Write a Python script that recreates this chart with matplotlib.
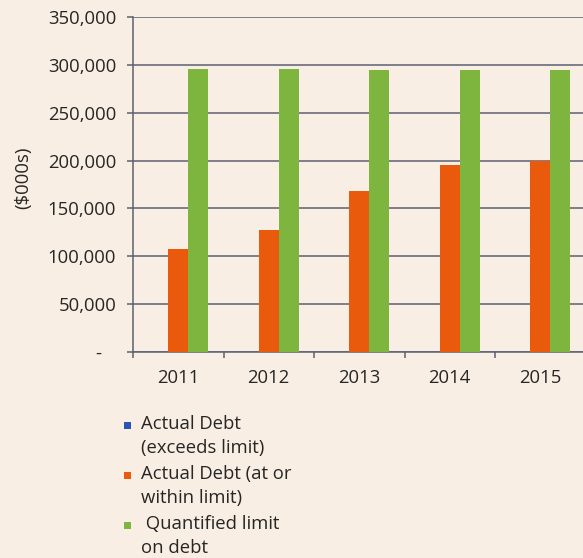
import matplotlib
matplotlib.use("Agg")
import matplotlib.pyplot as plt
import numpy as np
from matplotlib.patches import Rectangle

# ---- data ----
years = ["2011", "2012", "2013", "2014", "2015"]
debt_exceeds = [0, 0, 0, 0, 0]
debt_within = [108000, 127000, 168000, 195000, 200000]
debt_limit = [296000, 296000, 295000, 295000, 295000]
series_labels = ["Actual Debt\n(exceeds limit)",
                 "Actual Debt (at or\nwithin limit)",
                 " Quantified limit\non debt"]
series_colors = ["#2b55b5", "#ea5a0c", "#7db53f"]
y_ticks = [0, 50000, 100000, 150000, 200000, 250000, 300000, 350000]
y_label = "($000s)"

plt.rcParams['font.family'] = ['Open Sans', 'DejaVu Sans']
bg = "#f9eee3"
gridc = "#5d6172"
textc = "#262626"
fs = 13.3

W, H = 583, 558
fig = plt.figure(figsize=(W / 100, H / 100), dpi=100)
fig.patch.set_facecolor(bg)
ax = fig.add_axes([133 / W, 206 / H, 452.5 / W, 335 / H])
ax.set_facecolor(bg)

x = np.arange(len(years))
w = 0.22
for i, (vals, c) in enumerate(zip([debt_exceeds, debt_within, debt_limit], series_colors)):
    ax.bar(x + (i - 1) * w, vals, w, color=c, zorder=3, linewidth=0)

ax.set_xlim(-0.5, len(years) - 0.5)
ax.set_ylim(0, 350000)
ax.set_yticks(y_ticks)
ax.set_yticklabels(["-   "] + [f"{v:,}" for v in y_ticks[1:]])
ax.yaxis.grid(True, color=gridc, lw=1.1, zorder=0)
ax.set_axisbelow(True)

for s in ["top", "right"]:
    ax.spines[s].set_visible(False)
for s in ["left", "bottom"]:
    ax.spines[s].set_color(gridc)
    ax.spines[s].set_linewidth(1.1)

ax.set_xticks(x)
ax.set_xticklabels(years)
ax.set_xticks(np.arange(-0.5, len(years)), minor=True)
ax.tick_params(axis="x", which="major", length=0, pad=12, labelsize=fs, labelcolor=textc)
ax.tick_params(axis="x", which="minor", length=4, width=1.1, color=gridc, direction="out")
ax.tick_params(axis="y", length=4, width=1.1, color=gridc, direction="out",
               pad=8, labelsize=fs, labelcolor=textc)

ax.set_ylabel(y_label, fontsize=fs, color=textc)
ax.yaxis.set_label_coords(-0.222, 0.52)

# ---- legend (manual, marker aligned with first line) ----
entry_baselines = [429, 479, 529]
line_step = 24
for lab, c, yb in zip(series_labels, series_colors, entry_baselines):
    fig.patches.append(Rectangle((124 / W, (H - yb) / H), 7 / W, 7 / H,
                                 transform=fig.transFigure, color=c, lw=0))
    for k, line in enumerate(lab.split("\n")):
        fig.text(141 / W, (H - (yb + k * line_step)) / H, line, fontsize=fs,
                 color=textc, ha="left", va="baseline")

fig.savefig("out.png", dpi=100, facecolor=bg)
